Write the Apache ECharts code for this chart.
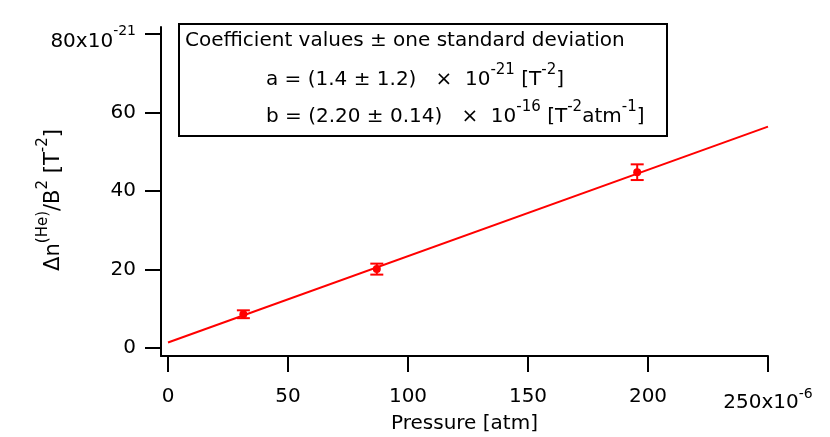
<!DOCTYPE html>
<html>
<head>
<meta charset="utf-8">
<script src="https://cdn.jsdelivr.net/npm/echarts@6/dist/echarts.min.js"></script>
<style>html,body{margin:0;padding:0;background:#fff}#c{width:830px;height:437px}</style>
</head>
<body>
<div id="c"></div>
<script>
// Data (x in 1e-6 atm, y in 1e-21 T^-2)
const pressure = [31.4, 87.0, 195.5];
const deltaN = [8.6, 20.1, 44.8];
const deltaNErr = [1.0, 1.4, 2.0];
const fitX = [0, 250];
const fitY = [1.4, 56.4];
const xTicks = [0, 50, 100, 150, 200, 250];
const yTicks = [0, 20, 40, 60, 80];
const legendLines = [
  'Coefficient values ± one standard deviation',
  'a = (1.4 ± 1.2)   ×  10',
  'b = (2.20 ± 0.14)   ×  10'
];

const FONT = 'DejaVu Sans';
const chart = echarts.init(document.getElementById('c'));

const pts = pressure.map((x, i) => [x, deltaN[i], deltaNErr[i]]);
const fitData = fitX.map((x, i) => [x, fitY[i]]);

const legRich = {
  m: {fontFamily: FONT, fontSize: 20, lineHeight: 22, padding: [11, 0, 0, 0], fill: '#000'},
  s: {fontFamily: FONT, fontSize: 15, lineHeight: 12, verticalAlign: 'top', fill: '#000'}
};

chart.setOption({
  animation: false,
  grid: {left: 161, right: 62, top: 27, bottom: 81, outerBoundsMode: 'none', containLabel: false},
  xAxis: {
    type: 'value', min: -2.92, max: 250,
    axisLine: {show: true, onZero: false, lineStyle: {color: '#000', width: 2}},
    axisTick: {show: true, length: 16, customValues: xTicks, lineStyle: {color: '#000', width: 2}},
    splitLine: {show: false},
    axisLabel: {
      customValues: xTicks, margin: 31, color: '#000',
      formatter: v => v === 250 ? '{mb|250x10}{s|-6}' : '{m|' + v + '}',
      rich: {
        m: {fontFamily: FONT, fontSize: 20, lineHeight: 20, color: '#000'},
        mb: {fontFamily: FONT, fontSize: 20, lineHeight: 20, padding: [11, 0, 0, 0], color: '#000'},
        s: {fontFamily: FONT, fontSize: 14, lineHeight: 14, verticalAlign: 'top', color: '#000'}
      }
    },
    name: 'Pressure [atm]', nameLocation: 'middle', nameGap: 58, nameMoveOverlap: false,
    nameTextStyle: {fontFamily: FONT, fontSize: 20, color: '#000'}
  },
  yAxis: {
    type: 'value', min: -2.04, max: 81.8,
    axisLine: {show: true, onZero: false, lineStyle: {color: '#000', width: 2}},
    axisTick: {show: true, length: 16, customValues: yTicks, lineStyle: {color: '#000', width: 2}},
    splitLine: {show: false},
    axisLabel: {
      customValues: yTicks, margin: 25, color: '#000',
      formatter: v => v === 80 ? '{mt|80x10}{s|-21}' : '{m|' + v + '}',
      rich: {
        m: {fontFamily: FONT, fontSize: 20, lineHeight: 20, color: '#000'},
        mt: {fontFamily: FONT, fontSize: 20, lineHeight: 20, padding: [15, 0, 0, 0], color: '#000'},
        s: {fontFamily: FONT, fontSize: 14, lineHeight: 10, verticalAlign: 'top', color: '#000'}
      }
    },
    name: '{m|Δn}{s|(He)}{m|/B}{s|2}{m| [T}{s|-2}{m|]}',
    nameLocation: 'middle', nameGap: 101, nameMoveOverlap: false,
    nameTextStyle: {
      padding: [0, 17, 0, 0],
      rich: {
        m: {fontFamily: FONT, fontSize: 21, lineHeight: 24, padding: [12, 0, 0, 0], color: '#000'},
        s: {fontFamily: FONT, fontSize: 15, lineHeight: 14, verticalAlign: 'top', color: '#000'}
      }
    }
  },
  series: [
    {
      type: 'line', data: fitData, symbol: 'none',
      lineStyle: {color: '#ff0000', width: 2}, z: 2
    },
    {
      type: 'custom', data: pts, z: 3,
      renderItem: (params, api) => {
        const x = api.value(0), y = api.value(1), e = api.value(2);
        const c = api.coord([x, y]);
        const hi = api.coord([x, y + e]);
        const lo = api.coord([x, y - e]);
        const hw = 6.5;
        const st = {stroke: '#ff0000', lineWidth: 2};
        return {
          type: 'group',
          children: [
            {type: 'line', shape: {x1: c[0], y1: hi[1], x2: c[0], y2: lo[1]}, style: st},
            {type: 'line', shape: {x1: c[0] - hw, y1: hi[1], x2: c[0] + hw, y2: hi[1]}, style: st},
            {type: 'line', shape: {x1: c[0] - hw, y1: lo[1], x2: c[0] + hw, y2: lo[1]}, style: st},
            {type: 'circle', shape: {cx: c[0], cy: c[1], r: 4}, style: {fill: '#ff0000'}}
          ]
        };
      }
    }
  ],
  graphic: [
    {type: 'rect', shape: {x: 179, y: 24, width: 488, height: 112},
     style: {fill: '#fff', stroke: '#000', lineWidth: 2}, z: 10},
    {type: 'text', x: 185, y: 31, z: 11,
     style: {text: legendLines[0], fontFamily: FONT, fontSize: 20, fill: '#000'}},
    {type: 'text', x: 266, y: 63, z: 11,
     style: {text: '{m|' + legendLines[1] + '}{s|-21}{m| [T}{s|-2}{m|]}', rich: legRich}},
    {type: 'text', x: 266, y: 100, z: 11,
     style: {text: '{m|' + legendLines[2] + '}{s|-16}{m| [T}{s|-2}{m|atm}{s|-1}{m|]}', rich: legRich}}
  ]
});
</script>
</body>
</html>
